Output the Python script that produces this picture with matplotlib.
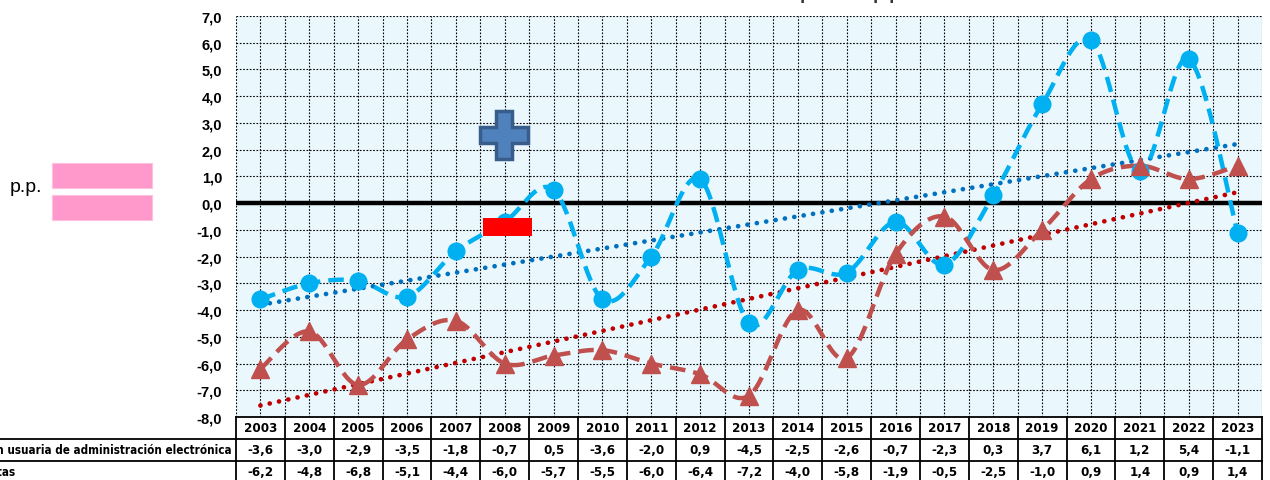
import numpy as np
import matplotlib
matplotlib.use("Agg")
import matplotlib.pyplot as plt
from matplotlib.patches import Rectangle, Polygon
from matplotlib import font_manager

years = [str(y) for y in range(2003, 2024)]
adm = [-3.6, -3.0, -2.9, -3.5, -1.8, -0.7, 0.5, -3.6, -2.0, 0.9, -4.5,
       -2.5, -2.6, -0.7, -2.3, 0.3, 3.7, 6.1, 1.2, 5.4, -1.1]
inet = [-6.2, -4.8, -6.8, -5.1, -4.4, -6.0, -5.7, -5.5, -6.0, -6.4, -7.2,
        -4.0, -5.8, -1.9, -0.5, -2.5, -1.0, 0.9, 1.4, 0.9, 1.4]
row_labels = ["Población usuaria de administración electrónica", "Internautas"]
title = "Diferencias con España en p.p."

W, H = 1270, 481
def fx(px):
    return px / W
def fy(py):
    return 1 - py / H

def smooth(x, y, n=30):
    # excel-like smoothed line (cubic bezier through points)
    x = np.asarray(x, float); y = np.asarray(y, float)
    p = np.column_stack([x, y])
    pts = [p[0]]
    for i in range(len(p) - 1):
        p0 = p[i]; p3 = p[i + 1]
        pm = p[i - 1] if i > 0 else p[i]
        pp = p[i + 2] if i + 2 < len(p) else p[i + 1]
        p1 = p0 + (p3 - pm) / 6.
        p2 = p3 - (pp - p0) / 6.
        t = np.linspace(0, 1, n)[1:, None]
        seg = (1-t)**3*p0 + 3*(1-t)**2*t*p1 + 3*(1-t)*t**2*p2 + t**3*p3
        pts.extend(seg)
    pts = np.array(pts)
    return pts[:, 0], pts[:, 1]

plt.rcParams['font.family'] = ['Liberation Sans', 'DejaVu Sans']

# condensed bold font for the data table
cond = None
for f in font_manager.fontManager.ttflist:
    if 'condensed' in f.fname.lower() and 'bold' in f.fname.lower() \
            and 'oblique' not in f.fname.lower() and 'mono' not in f.fname.lower():
        cond = f.fname
        break
if cond:
    tfont = font_manager.FontProperties(fname=cond, size=9.5)
else:
    tfont = font_manager.FontProperties(family='Liberation Sans', weight='bold', size=9)

fig = plt.figure(figsize=(12.7, 4.81), dpi=100)
ax = fig.add_axes([fx(236), fy(418), fx(1262) - fx(236), fy(17) - fy(418)])
ax.set_facecolor('#EAF8FD')

x = np.arange(len(years))
ax.set_xlim(-0.5, len(years) - 0.5)
ax.set_ylim(-8, 7)
ax.set_yticks(np.arange(-8, 8, 1))
ax.set_yticklabels([("%.1f" % v).replace('.', ',') for v in np.arange(-8, 8, 1)],
                   fontsize=10.5, fontweight='bold')
ax.set_xticks(np.arange(-0.5, len(years), 1))
ax.set_xticks(x, minor=True)
ax.set_xticklabels([])
ax.tick_params(axis='both', which='both', length=0)
ax.tick_params(axis='y', pad=10)
ax.grid(True, which='both', color='black', linestyle=(0, (1.5, 1.5)), linewidth=0.8)
for s in ax.spines.values():
    s.set_visible(False)
ax.set_axisbelow(True)

ax.axhline(0, color='black', lw=3.2, zorder=2)

# trendlines
for vals, col in [(adm, '#0070C0'), (inet, '#C00000')]:
    k, b = np.polyfit(x, vals, 1)
    ax.plot(x, k * x + b, color=col, lw=3.4, linestyle=(0, (0.01, 2.0)),
            dash_capstyle='round', zorder=3)

sx, sy = smooth(x, adm)
ax.plot(sx, sy, color='#00B0F0', lw=3.2, linestyle=(0, (3.5, 1.8)), zorder=4)
ax.plot(x, adm, 'o', color='#00B0F0', ms=12, zorder=5)
sx, sy = smooth(x, inet)
ax.plot(sx, sy, color='#C0504D', lw=3.2, linestyle=(0, (3.5, 1.8)), zorder=4)
ax.plot(x, inet, '^', color='#C0504D', ms=13, zorder=5)

# title (cut off at the top edge)
fig.text(fx(772), fy(-1.5), title, ha='center', va='baseline',
         fontsize=13, fontweight='bold', color='#333333')

# data table
trx = ax.get_xaxis_transform()
def ry(py):
    return (418 - py) / (418 - 17)
lw = 1.3
ax.plot([-0.5, len(years) - 0.5], [ry(418)] * 2, color='black', lw=lw,
        transform=trx, clip_on=False)
for py in (440, 462):
    fig.add_artist(plt.Line2D([0, fx(1262)], [fy(py)] * 2, color='black', lw=lw))
for b in np.arange(-0.5, len(years), 1):
    ax.plot([b, b], [ry(418), ry(485)], color='black', lw=lw,
            transform=trx, clip_on=False)
for i, yr in enumerate(years):
    ax.text(i, ry(429), yr, transform=trx, ha='center', va='center',
            fontproperties=tfont)
    ax.text(i, ry(451), ("%.1f" % adm[i]).replace('.', ','), transform=trx,
            ha='center', va='center', fontproperties=tfont)
    ax.text(i, ry(473), ("%.1f" % inet[i]).replace('.', ','), transform=trx,
            ha='center', va='center', fontproperties=tfont)

# row labels: size them so that the visible tail fits the left margin
lfont = tfont.copy()
probe = fig.text(0, 0, "n usuaria de administración electrónica", fontproperties=lfont)
fig.canvas.draw()
wprobe = probe.get_window_extent().width
probe.remove()
lfont.set_size(tfont.get_size() * 236.0 / wprobe)
t1 = fig.text(fx(232), fy(451), row_labels[0], ha='right', va='center',
              fontproperties=lfont)
fig.canvas.draw()
x0 = t1.get_window_extent().x0
fig.text(x0 / W, fy(473), row_labels[1], ha='left', va='center',
         fontproperties=lfont)

# decorations
fig.text(fx(10), fy(188), "p.p.", ha='left', va='center', fontsize=14)
for top in (164, 196):
    fig.add_artist(Rectangle((fx(52), fy(top + 25)), fx(100), 25 / H,
                             facecolor='#FF99CC', edgecolor='#FFC0DD', lw=0.8))
cx, cy = 504, 136
a, c = 8, 24
plus = [(cx - a, cy - c), (cx + a, cy - c), (cx + a, cy - a), (cx + c, cy - a),
        (cx + c, cy + a), (cx + a, cy + a), (cx + a, cy + c), (cx - a, cy + c),
        (cx - a, cy + a), (cx - c, cy + a), (cx - c, cy - a), (cx - a, cy - a)]
fig.add_artist(Polygon([(fx(p), fy(q)) for p, q in plus], closed=True,
                       facecolor='#4F81BD', edgecolor='#385D8A', lw=2.5, zorder=6))
fig.add_artist(Rectangle((fx(483), fy(237)), fx(49), 18 / H,
                         facecolor='#FF0000', edgecolor='none', zorder=6))

fig.savefig("out.png", dpi=100)
